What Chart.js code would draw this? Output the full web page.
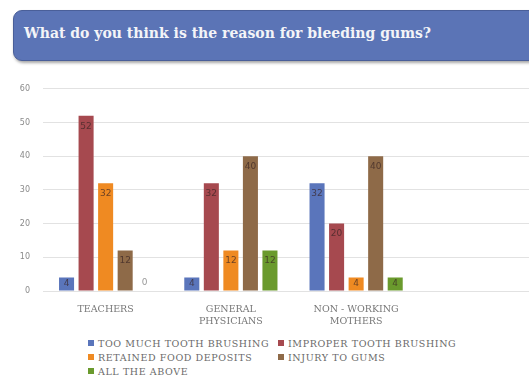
<!DOCTYPE html>
<html>
<head>
<meta charset="utf-8">
<script src="https://cdn.jsdelivr.net/npm/chart.js@4"></script>
<style>
    html, body { margin: 0; padding: 0; background: #fff; }
    body { width: 529px; height: 383px; position: relative; overflow: hidden; font-family: "DejaVu Serif", serif; }
    #titleBox {
        position: absolute; left: 13px; top: 10px; width: 540px; height: 49px;
        background: #5b74b6; border: 1px solid #4a5f99; border-radius: 9px;
        box-shadow: 1px 2px 3px rgba(0,0,0,0.35);
    }
    #titleBox span {
        position: absolute; left: 10px; top: 14px; color: #f4f4f8; font-weight: bold;
        font-size: 14px; white-space: nowrap;
    }
    #chartWrap { position: absolute; left: 0; top: 71px; width: 545px; height: 259px; }
    #legend { position: absolute; left: 88px; top: 338px; width: 440px; }
    .lg { position: absolute; white-space: nowrap; font-size: 9.5px; letter-spacing: 0.6px; color: #6a6a6a; line-height: 12px; }
    .lg i { display: inline-block; width: 6px; height: 6px; margin-right: 4px; vertical-align: 1px; }
</style>
</head>
<body>
<div id="titleBox"><span>What do you think is the reason for bleeding gums?</span></div>
<div id="chartWrap"><canvas id="bleedingChart"></canvas></div>
<div id="legend"></div>
<script>
const groups = [["TEACHERS"], ["GENERAL", "PHYSICIANS"], ["NON - WORKING", "MOTHERS"], ""];
const reasons = ["TOO MUCH TOOTH BRUSHING", "IMPROPER TOOTH BRUSHING", "RETAINED FOOD DEPOSITS", "INJURY TO GUMS", "ALL THE ABOVE"];
const tooMuchBrushing = [4, 4, 32, null];
const improperBrushing = [52, 32, 20, null];
const retainedFood = [32, 12, 4, null];
const injuryToGums = [12, 40, 40, null];
const allTheAbove = [0, 12, 4, null];
const yTicks = [0, 10, 20, 30, 40, 50, 60];
const colors = ["#5a75bb", "#a6494f", "#ef8a22", "#8e6a48", "#6a9a2d"];

const seriesValues = [tooMuchBrushing, improperBrushing, retainedFood, injuryToGums, allTheAbove];

// numbers inside the bars, near the top (or centred for short bars)
const barLabels = {
    id: "barLabels",
    afterDatasetsDraw(chart) {
        const ctx = chart.ctx;
        ctx.save();
        ctx.font = "9px 'DejaVu Sans', sans-serif";
        ctx.textAlign = "center";
        ctx.textBaseline = "middle";
        chart.data.datasets.forEach((ds, i) => {
            const meta = chart.getDatasetMeta(i);
            meta.data.forEach((bar, j) => {
                const v = ds.data[j];
                if (v === null || v === undefined) return;
                if (v === 0) {
                    ctx.fillStyle = "#999";
                    ctx.fillText("0", bar.x, bar.base - 8);
                    return;
                }
                const y = Math.min(bar.y + 10.5, (bar.y + bar.base) / 2);
                ctx.fillStyle = "rgba(55,35,35,0.7)";
                ctx.fillText(String(v), bar.x, y);
            });
        });
        ctx.restore();
    }
};

const ctx = document.getElementById("bleedingChart").getContext("2d");
const chart = new Chart(ctx, {
    type: "bar",
    data: {
        labels: groups,
        datasets: reasons.map((r, i) => ({
            label: r,
            data: seriesValues[i],
            backgroundColor: colors[i],
            categoryPercentage: 0.78,
            barPercentage: 0.77
        }))
    },
    options: {
        responsive: true,
        maintainAspectRatio: false,
        animation: false,
        layout: { padding: { top: 0, right: 1, left: 0, bottom: 0 } },
        scales: {
            x: {
                grid: { display: false, drawTicks: false },
                border: { display: false },
                ticks: { color: "#777", font: { family: "DejaVu Serif", size: 9.5, lineHeight: 1.3 }, padding: 12, maxRotation: 0, autoSkip: false },
                afterFit(scale) { scale.height = 39; }
            },
            y: {
                min: 0, max: 60,
                afterBuildTicks(scale) { scale.ticks = yTicks.map(v => ({ value: v })); },
                grid: { color: "#e2e2e2", drawTicks: false },
                border: { display: false },
                ticks: { color: "#8a8a8a", font: { family: "DejaVu Sans", size: 8 }, padding: 13 },
                afterFit(scale) { scale.width = 43; }
            }
        },
        plugins: {
            legend: { display: false },
            tooltip: { enabled: false }
        }
    },
    plugins: [barLabels]
});

// legend laid out in two columns like the original
const legend = document.getElementById("legend");
reasons.forEach((r, i) => {
    const el = document.createElement("div");
    el.className = "lg";
    el.style.left = (i % 2 === 0 ? 0 : 190) + "px";
    el.style.top = (Math.floor(i / 2) * 14) + "px";
    el.innerHTML = `<i style="background:${colors[i]}"></i>${r}`;
    legend.appendChild(el);
});
</script>
</body>
</html>
